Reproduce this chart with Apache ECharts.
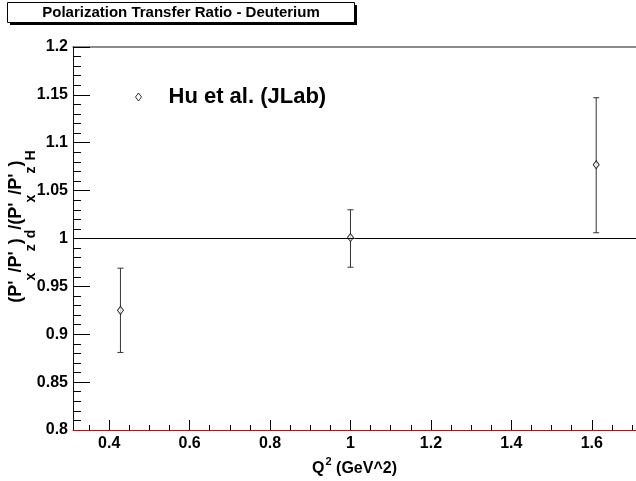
<!DOCTYPE html>
<html>
<head>
<meta charset="utf-8">
<title>Polarization Transfer Ratio - Deuterium</title>
<script src="https://cdn.jsdelivr.net/npm/echarts@6/dist/echarts.min.js"></script>
<style>
  html, body { margin: 0; padding: 0; background: #fff; }
  #chart { width: 636px; height: 481px; }
</style>
</head>
<body>
<div id="chart"></div>
<script>
// Hu et al. (JLab) points
var q2 = [0.428, 1.0, 1.611]
var ratio = [0.925, 1.001, 1.077]
var errLow = [0.881, 0.970, 1.006]
var errHigh = [0.969, 1.030, 1.147]

// axis ticks
var xMajor = [0.4, 0.6, 0.8, 1, 1.2, 1.4, 1.6]
var xMinor = [0.35, 0.45, 0.5, 0.55, 0.65, 0.7, 0.75, 0.85, 0.9, 0.95,
  1.05, 1.1, 1.15, 1.25, 1.3, 1.35, 1.45, 1.5, 1.55, 1.65, 1.7]

var font = "'Liberation Sans', Arial, sans-serif"

var points = q2.map(function (x, i) { return [x, ratio[i]] })
var bars = q2.map(function (x, i) { return [x, errLow[i], errHigh[i]] })

var myChart = echarts.init(document.getElementById('chart'))

myChart.setOption({
  animation: false,
  backgroundColor: '#fff',
  textStyle: { fontFamily: font },
  grid: { left: 73, top: 47, right: 0, bottom: 51, containLabel: false, outerBoundsMode: 'none' },
  graphic: [
    // title box with ROOT-like shadow
    { type: 'rect', shape: { x: 10, y: 5, width: 347, height: 20 }, style: { fill: '#000' } },
    { type: 'rect', shape: { x: 7.5, y: 2.5, width: 347, height: 20 }, style: { fill: '#fff', stroke: '#000', lineWidth: 1 } },
    {
      type: 'text', x: 181, y: 13,
      style: {
        text: 'Polarization Transfer Ratio - Deuterium',
        fontFamily: font, fontSize: 15, fontWeight: 'bold', fill: '#000',
        align: 'center', verticalAlign: 'middle'
      }
    }
  ],
  legend: {
    left: 130, top: 81,
    itemWidth: 6, itemHeight: 8,
    textStyle: { fontFamily: font, fontSize: 22, fontWeight: 'bold', color: '#000', padding: [0, 0, 0, 22] },
    data: [{ name: 'Hu et al. (JLab)', icon: 'diamond', itemStyle: { color: '#fff', borderColor: '#000', borderWidth: 1 } }]
  },
  xAxis: [
    {
      type: 'value', min: 0.31, max: 1.71, position: 'bottom',
      axisLine: { show: true, onZero: false, lineStyle: { color: '#e00000', width: 1 } },
      axisTick: { inside: true, length: 10, customValues: xMajor, lineStyle: { color: '#000' } },
      axisLabel: {
        customValues: xMajor, margin: 6, color: '#000',
        fontFamily: font, fontSize: 16, fontWeight: 'bold'
      },
      splitLine: { show: false },
      z: 5,
      name: '{m|Q}{s|2}{m| (GeV^2)}',
      nameLocation: 'middle', nameGap: 25,
      nameTextStyle: {
        rich: {
          m: { fontFamily: font, fontSize: 16, fontWeight: 'bold', color: '#000', lineHeight: 20, verticalAlign: 'bottom' },
          s: { fontFamily: font, fontSize: 11, fontWeight: 'bold', color: '#000', lineHeight: 11, verticalAlign: 'top', padding: [0, 0, 9, 1] }
        }
      }
    },
    {
      type: 'value', min: 0.31, max: 1.71, position: 'bottom',
      axisLine: { show: false, onZero: false },
      axisTick: { inside: true, length: 5, customValues: xMinor, lineStyle: { color: '#000' } },
      axisLabel: { show: false },
      splitLine: { show: false }
    },
    {
      type: 'value', min: 0.31, max: 1.71, position: 'top',
      axisLine: { show: true, onZero: false, lineStyle: { color: '#666', width: 1.5 } },
      axisTick: { show: false },
      axisLabel: { show: false },
      splitLine: { show: false }
    }
  ],
  yAxis: {
    type: 'value', min: 0.8, max: 1.2, interval: 0.05,
    axisLine: { show: true, onZero: false, lineStyle: { color: '#111', width: 1 } },
    axisTick: { inside: true, length: 17, lineStyle: { color: '#000' } },
    minorTick: { show: true, splitNumber: 5, length: 8, lineStyle: { color: '#000' } },
    axisLabel: { margin: 5, color: '#000', fontFamily: font, fontSize: 16, fontWeight: 'bold' },
    splitLine: { show: false },
    name: "{m|(P'}{s|x}{m|/P'}{s|z}{m|)}{s|d}{m|/(P'}{s|x}{m|/P'}{s|z}{m|)}{s|H}",
    nameLocation: 'middle', nameRotate: 90, nameGap: 46,
    nameMoveOverlap: false,
    nameTextStyle: {
      padding: [0, 0, 0, 24],
      rich: {
        m: { fontFamily: font, fontSize: 18, fontWeight: 'bold', color: '#000', lineHeight: 20, verticalAlign: 'top' },
        s: { fontFamily: font, fontSize: 14, fontWeight: 'bold', color: '#000', lineHeight: 14, verticalAlign: 'top', padding: [17, 0, 0, 0] }
      }
    }
  },
  series: [
    {
      name: 'errors',
      type: 'custom',
      xAxisIndex: 0,
      yAxisIndex: 0,
      data: bars,
      z: 2,
      renderItem: function (params, api) {
        var top = api.coord([api.value(0), api.value(2)])
        var bot = api.coord([api.value(0), api.value(1)])
        var st = { stroke: '#333', lineWidth: 1 }
        return {
          type: 'group',
          children: [
            { type: 'line', shape: { x1: top[0], y1: top[1], x2: bot[0], y2: bot[1] }, style: st },
            { type: 'line', shape: { x1: top[0] - 3, y1: top[1], x2: top[0] + 3, y2: top[1] }, style: st },
            { type: 'line', shape: { x1: bot[0] - 3, y1: bot[1], x2: bot[0] + 3, y2: bot[1] }, style: st }
          ]
        }
      }
    },
    {
      name: 'Hu et al. (JLab)',
      type: 'scatter',
      xAxisIndex: 0,
      yAxisIndex: 0,
      data: points,
      z: 3,
      symbol: 'diamond',
      symbolSize: [6, 8],
      itemStyle: { color: '#fff', borderColor: '#000', borderWidth: 1 },
      markLine: {
        silent: true,
        symbol: 'none',
        label: { show: false },
        lineStyle: { color: '#000', width: 1, type: 'solid' },
        data: [{ yAxis: 1 }]
      }
    }
  ]
})
</script>
</body>
</html>
